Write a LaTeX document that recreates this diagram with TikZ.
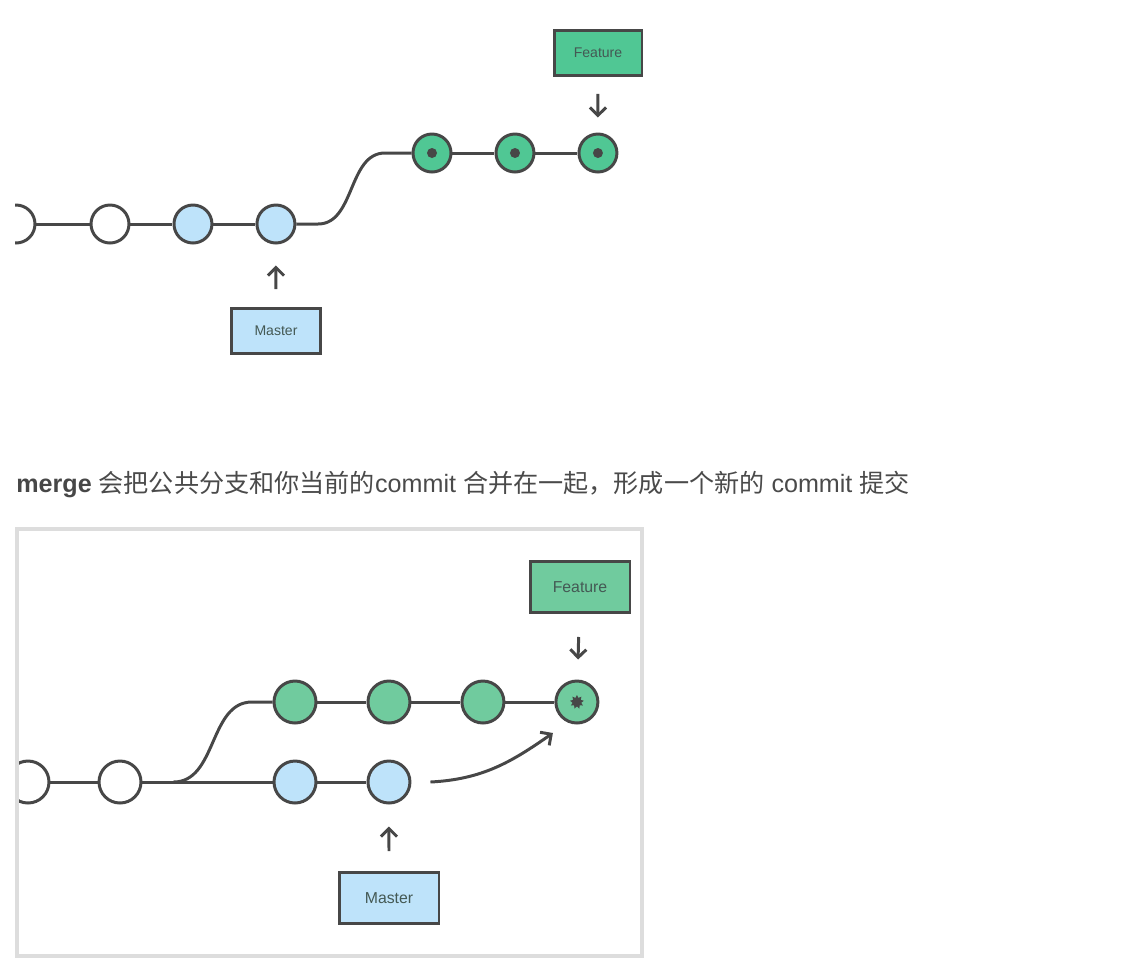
\documentclass[tikz,border=0pt]{standalone}
\usepackage{fontspec}
\setmainfont{Liberation Sans}
\newfontfamily\cjk{Noto Sans CJK SC}
\usetikzlibrary{arrows.meta, positioning, shapes.geometric}
\usepackage{xcolor}
\definecolor{commitblue}{HTML}{BEE3FA}
\definecolor{commitgreen}{HTML}{50C794}
\definecolor{commitgreenlt}{HTML}{70CB9E}
\definecolor{linegray}{HTML}{474747}
\definecolor{labelgray}{HTML}{445954}
\definecolor{textgray}{HTML}{4A4A4A}
\definecolor{framegray}{HTML}{DDDDDD}

\tikzset{
    commit/.style={circle, draw=linegray, line width=1.7pt, fill=white, minimum size=0.76cm, inner sep=0pt},
    bigcommit/.style={commit, minimum size=0.84cm},
    branchbox/.style={rectangle, draw=linegray, line width=1.7pt, text=labelgray, inner sep=0pt},
    history/.style={draw=linegray, line width=1.7pt},
    ptr/.style={draw=linegray, line width=1.7pt, -{Straight Barb[length=1.6mm, width=3.2mm]}}
}

\begin{document}
\begin{tikzpicture}[x=0.02cm, y=-0.02cm]
\useasboundingbox (0,0) rectangle (1148,978);

% before: feature branch on top of master
\begin{scope}
  \clip (15,0) rectangle (700,420);
  \node[commit] (t0) at (16,224) {};
  \node[commit] (t1) at (110,224) {};
  \node[commit, fill=commitblue, right=0.84cm of t1] (t2) {};
  \node[commit, fill=commitblue, right=0.84cm of t2] (t3) {};
  \node[commit, fill=commitgreen] (tf1) at (432,153) {};
  \node[commit, fill=commitgreen, right=0.84cm of tf1] (tf2) {};
  \node[commit, fill=commitgreen, right=0.84cm of tf2] (tf3) {};
  \foreach \c in {tf1, tf2, tf3} \fill[linegray] (\c) circle (0.1cm);
  \draw[history] (t0) -- (t1) (t1) -- (t2) (t2) -- (t3);
  \draw[history] (tf1) -- (tf2) (tf2) -- (tf3);
  \draw[history] (t3.east) -- (318,224) .. controls (355,224) and (348,153) .. (385,153) -- (tf1.west);
  \node[branchbox, fill=commitgreen, minimum width=1.76cm, minimum height=0.9cm, font=\fontsize{8}{9}\selectfont] (tfeat) at (598,53) {Feature};
  \node[branchbox, fill=commitblue, minimum width=1.78cm, minimum height=0.9cm, font=\fontsize{8}{9}\selectfont] (tmast) at (276,331) {Master};
  \draw[ptr, shorten <=0.34cm, shorten >=0.3cm] (tfeat) -- (tf3);
  \draw[ptr, shorten <=0.36cm, shorten >=0.42cm] (tmast) -- (t3);
\end{scope}

% caption
\node[anchor=base west, inner sep=0pt, text=textgray, font=\fontsize{14.3}{17}\selectfont] (caption) at (16,492)
  {{\color{linegray}\textbf{merge}} {\cjk 会把公共分支和你当前的}commit {\cjk 合并在一起，形成一个新的} commit {\cjk 提交}};

% after: merge commit
\draw[framegray, line width=0.08cm] (17,529) rectangle (642,956);
\begin{scope}
  \clip (19,531) rectangle (640,954);
  \node[bigcommit] (b0) at (28,782) {};
  \node[bigcommit] (b1) at (120,782) {};
  \node[bigcommit, fill=commitblue] (b2) at (295,782) {};
  \node[bigcommit, fill=commitblue, right=0.98cm of b2] (b3) {};
  \node[bigcommit, fill=commitgreenlt] (bf1) at (295,702) {};
  \node[bigcommit, fill=commitgreenlt, right=0.98cm of bf1] (bf2) {};
  \node[bigcommit, fill=commitgreenlt, right=0.98cm of bf2] (bf3) {};
  \node[bigcommit, fill=commitgreenlt, right=0.98cm of bf3] (bf4) {};
  \node[star, star points=9, star point ratio=1.6, fill=linegray, minimum size=0.28cm, inner sep=0pt] (bstar) at (bf4) {};
  \draw[history] (b0) -- (b1) (b1) -- (b2) (b2) -- (b3);
  \draw[history] (bf1) -- (bf2) (bf2) -- (bf3) (bf3) -- (bf4);
  \coordinate (fork) at ([xshift=0.62cm]b1.east);
  \draw[history] (fork) .. controls (217,782) and (209,702) .. (252,702) -- (bf1.west);
  \node[branchbox, fill=commitgreenlt, minimum width=2cm, minimum height=1.02cm, font=\fontsize{9}{10}\selectfont] (bfeat) at (580,587) {Feature};
  \node[branchbox, fill=commitblue, minimum width=2cm, minimum height=1.02cm, font=\fontsize{9}{10}\selectfont] (bmast) at (389,898) {Master};
  \draw[ptr, shorten <=0.46cm, shorten >=0.4cm] (bfeat) -- (bf4);
  \draw[ptr, shorten <=0.4cm, shorten >=0.44cm] (bmast) -- (b3);
  \coordinate (mergefrom) at ([xshift=0.38cm]b3.east);
  \coordinate (mergeto) at ([xshift=-0.48cm, yshift=-0.62cm]bf4.center);
  \draw[ptr] (mergefrom) to[out=3, in=215] (mergeto);
\end{scope}
\end{tikzpicture}
\end{document}
